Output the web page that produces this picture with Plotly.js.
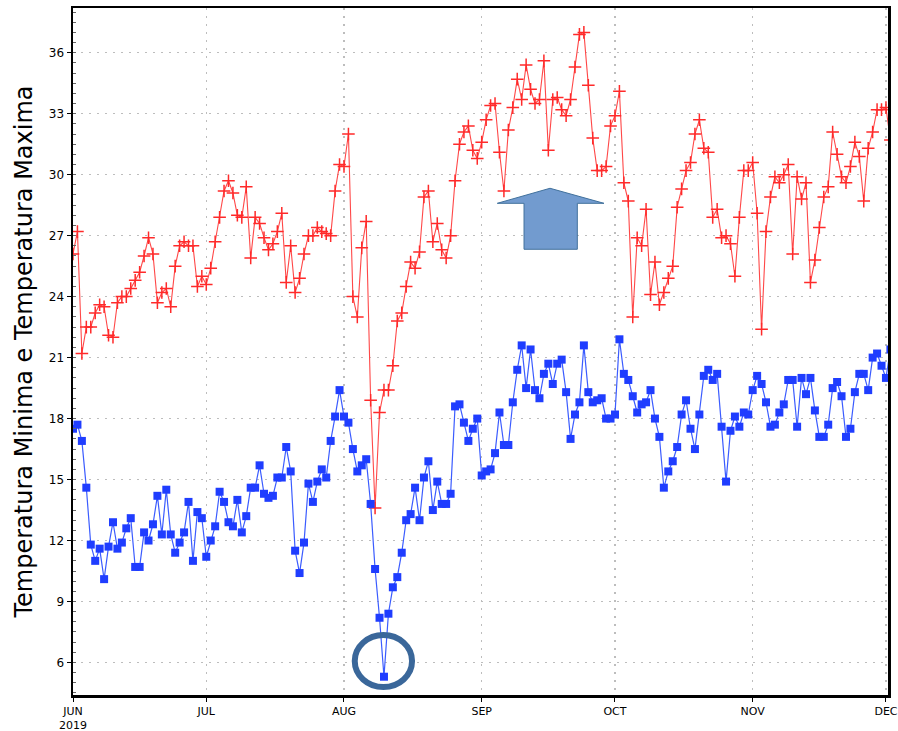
<!DOCTYPE html>
<html>
<head>
<meta charset="utf-8">
<script src="https://cdn.plot.ly/plotly-3.0.1.min.js"></script>
<style>
html,body{margin:0;padding:0;background:#fff;}
#chart{width:898px;height:731px;}
</style>
</head>
<body>
<div id="chart"></div>
<script>
// Daily series starting 2019-06-01
const startDate = "2019-06-01";

const tmax = [
26.1,27.2,21.2,22.5,22.5,23.2,23.6,23.5,22.1,22.0,
23.7,24.0,24.0,24.4,24.8,25.2,26.0,26.9,26.1,23.7,
24.2,24.4,23.5,25.5,26.5,26.7,26.5,26.5,24.5,25.0,
24.6,25.4,26.7,27.9,29.2,29.7,29.1,28.0,27.9,29.4,
25.9,27.9,27.6,26.9,26.3,26.6,27.2,28.1,24.7,26.5,
24.2,24.9,26.1,27.0,27.0,27.4,27.2,27.1,27.0,29.2,
30.5,30.4,32.0,24.0,23.0,26.4,27.7,18.9,13.6,18.3,
19.4,19.4,20.6,22.8,23.2,24.5,25.7,25.4,26.2,28.9,
29.2,26.7,27.6,26.3,25.9,27.0,29.7,31.5,32.1,32.4,
31.2,30.8,31.6,32.7,33.4,33.5,31.1,29.2,32.2,33.3,
34.7,33.7,35.4,34.2,33.5,33.7,35.6,31.2,33.7,33.8,
33.2,32.9,33.7,35.3,36.9,37.0,34.4,31.8,30.2,30.2,
30.4,32.4,32.9,34.1,29.6,28.7,23.0,26.9,26.5,28.3,
24.1,25.7,23.6,24.2,24.9,25.5,28.4,29.3,30.2,30.6,
32.0,32.7,31.3,31.1,27.9,28.3,26.9,27.0,26.6,25.0,
27.9,30.2,30.2,30.6,28.1,22.4,27.2,28.9,29.9,29.6,
30.0,30.5,26.1,29.9,28.8,29.6,24.7,25.8,27.4,28.9,
29.4,32.1,31.0,29.9,29.6,30.4,31.6,30.9,28.7,31.3,
32.1,33.2,33.2,33.3,31.7
];

const tmin = [
17.5,17.7,16.9,14.6,11.8,11.0,11.6,10.1,11.7,12.9,
11.6,11.9,12.6,13.1,10.7,10.7,12.4,12.0,12.8,14.2,
12.3,14.5,12.3,11.4,11.9,12.4,13.9,11.0,13.4,13.1,
11.2,12.0,12.7,14.4,13.9,12.9,12.7,14.0,12.4,13.2,
14.6,14.6,15.7,14.3,14.1,14.2,15.1,15.1,16.6,15.4,
11.5,10.4,11.9,14.8,13.9,14.9,15.5,15.1,16.9,18.1,
19.4,18.1,17.8,16.5,15.4,15.7,16.0,13.8,10.6,8.2,
5.3,8.4,9.7,10.2,11.4,13.0,13.3,14.6,13.0,15.1,
15.9,13.5,14.9,13.8,13.8,14.3,18.6,18.7,17.8,16.9,
17.5,18.0,15.2,15.4,15.5,16.3,18.3,16.7,16.7,18.8,
20.4,21.6,19.5,21.4,19.4,19.0,20.2,20.7,19.7,20.7,
20.9,19.3,17.0,18.2,18.8,21.6,19.3,18.8,18.9,19.0,
18.0,18.0,18.2,21.9,20.2,19.9,19.1,18.3,18.7,18.8,
19.4,18.0,17.1,14.6,15.4,15.9,16.6,18.2,18.9,17.5,
16.5,18.2,20.1,20.4,19.9,20.2,17.6,14.9,17.4,18.1,
17.6,18.3,18.2,19.4,20.1,19.7,18.8,17.6,17.7,18.3,
18.7,19.9,19.9,17.6,20.0,19.2,20.0,18.4,17.1,17.1,
17.7,19.5,19.8,19.1,17.1,17.5,19.3,20.2,20.2,19.4,
21.0,21.2,20.6,20.0,21.4
];

const monthTickVals = ["2019-06-01","2019-07-01","2019-08-01","2019-09-01","2019-10-01","2019-11-01","2019-12-01"];
const monthTickText = ["JUN<br>2019","JUL","AUG","SEP","OCT","NOV","DEC"];
const yTickVals = [6,9,12,15,18,21,24,27,30,33,36];
const yTitle = "Temperatura Minima e Temperatura Maxima";

function dayList(n){
  const out = [];
  const t0 = Date.parse(startDate + "T00:00:00Z");
  for (let i = 0; i < n; i++){
    out.push(new Date(t0 + i*86400000).toISOString().slice(0,10));
  }
  return out;
}

const xMax = dayList(tmax.length);
const xMin = dayList(tmin.length);

const traces = [
  {
    x: xMax, y: tmax, type: "scatter", mode: "lines+markers",
    line: {color: "#ff4848", width: 1.1},
    marker: {symbol: "cross-thin", size: 9, line: {color: "#ff2a2a", width: 1.5}, color: "#ff2a2a"},
    name: "Tmax", hoverinfo: "x+y"
  },
  {
    x: xMin, y: tmin, type: "scatter", mode: "lines+markers",
    line: {color: "#3b5cff", width: 1.2},
    marker: {symbol: "square", size: 8, color: "#1f3dff", line: {width: 0}},
    name: "Tmin", hoverinfo: "x+y"
  }
];

// plot area in paper coords
const arrowPath = "M 0.5206,0.7157 L 0.5853,0.7376 L 0.6515,0.7157 L 0.6188,0.7157 L 0.6188,0.6488 L 0.5534,0.6488 L 0.5534,0.7157 Z";

const layout = {
  width: 898, height: 731,
  margin: {l: 73, r: 10, t: 8, b: 36},
  paper_bgcolor: "#ffffff",
  plot_bgcolor: "#ffffff",
  showlegend: false,
  font: {family: "Liberation Sans, Arial, sans-serif", color: "#000"},
  xaxis: {
    type: "date",
    range: ["2019-06-01", "2019-12-01 11:00"],
    tickvals: monthTickVals,
    ticktext: monthTickText,
    tickfont: {size: 11, family: "DejaVu Sans, sans-serif", color: "#000"},
    ticks: "outside", ticklen: 4, tickcolor: "#000", tickwidth: 1,
    showgrid: true, gridcolor: "#bdbdbd", griddash: "2px,6px", gridwidth: 1.3,
    showline: true, linecolor: "#000", linewidth: 2.5, mirror: true,
    zeroline: false, fixedrange: true
  },
  yaxis: {
    range: [4.4, 38.2],
    tickvals: yTickVals,
    tickfont: {size: 12, family: "DejaVu Sans, sans-serif", color: "#000"},
    ticks: "outside", ticklen: 4, tickcolor: "#000", tickwidth: 1,
    minor: {dtick: 0.5, ticks: "inside", ticklen: 3, tickcolor: "#666", showgrid: false},
    showgrid: true, gridcolor: "#bdbdbd", griddash: "2px,6px", gridwidth: 1.3,
    showline: true, linecolor: "#000", linewidth: 2.5, mirror: true,
    zeroline: false, fixedrange: true,
    title: {text: yTitle, font: {size: 24, family: "DejaVu Sans, sans-serif", color: "#000"}, standoff: 10}
  },
  shapes: [
    {type: "path", xref: "paper", yref: "paper", path: arrowPath,
     fillcolor: "#729bcf", line: {color: "#41719c", width: 1}},
    {type: "circle", xref: "paper", yref: "paper",
     x0: 0.3457, x1: 0.4160, y0: 0.0116, y1: 0.0873,
     line: {color: "#3a679a", width: 6}, fillcolor: "rgba(0,0,0,0)"}
  ]
};

Plotly.newPlot("chart", traces, layout, {displayModeBar: false, staticPlot: true});
</script>
</body>
</html>
